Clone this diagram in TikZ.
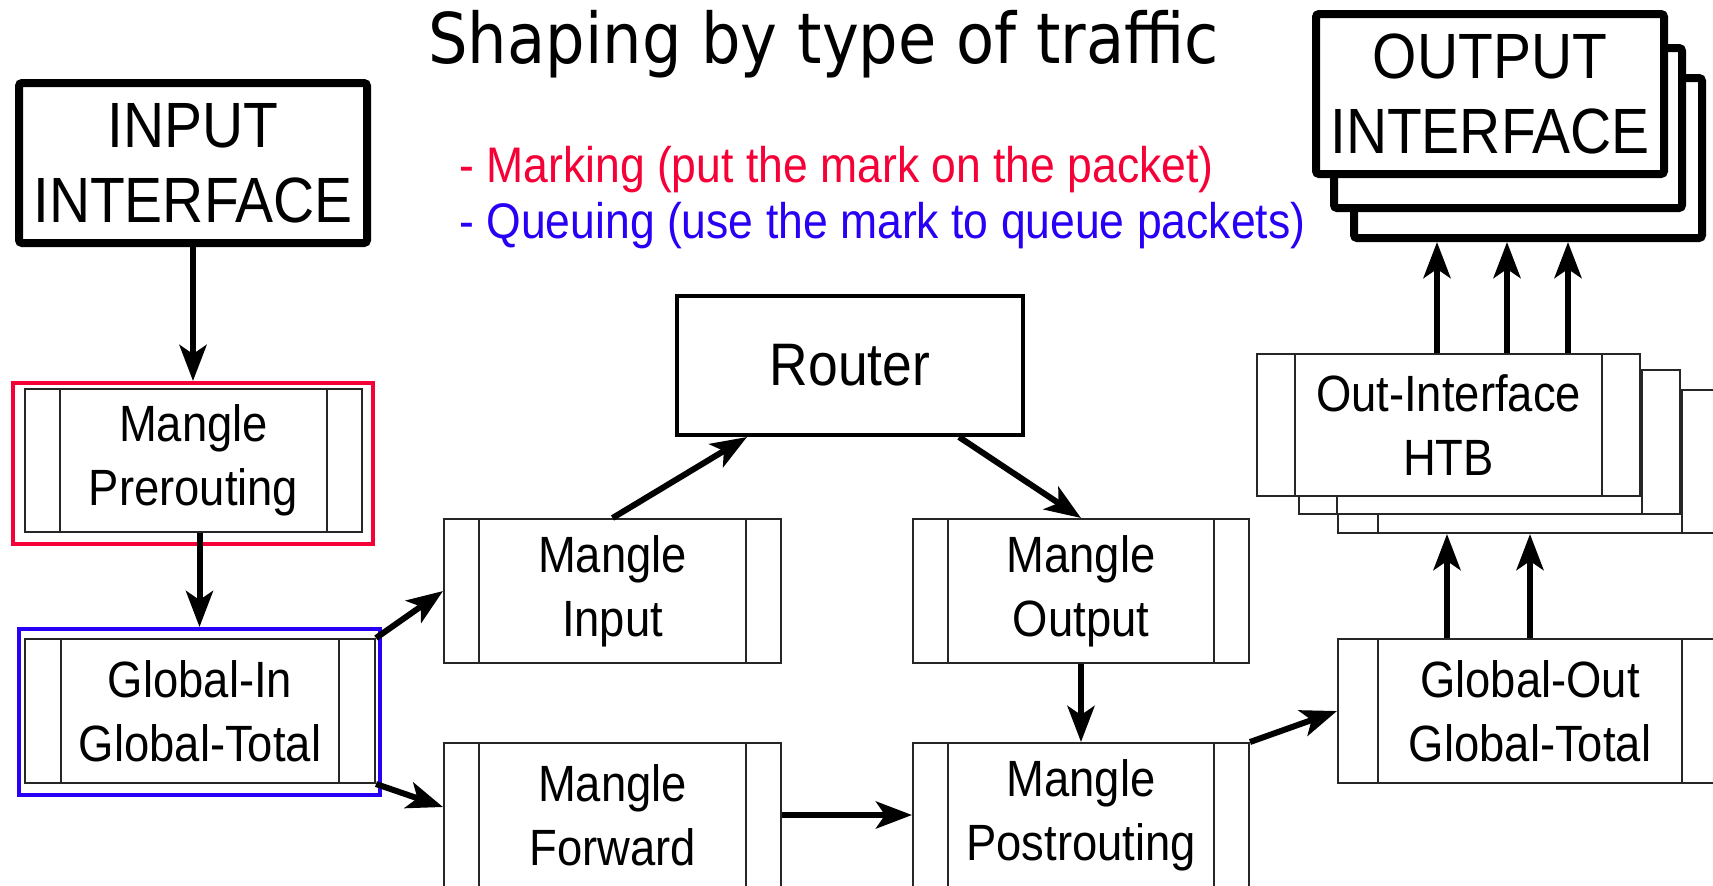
\documentclass[tikz,border=0pt]{standalone}
\usepackage{fontspec}
\setmainfont{Liberation Sans}[FakeStretch=0.89]
\newfontfamily\titlefam{DejaVu Sans}[FakeStretch=0.89]
\usetikzlibrary{arrows.meta}
\definecolor{mred}{RGB}{245,0,55}
\definecolor{mblue}{RGB}{40,0,245}
\newcommand\boxfont{\fontsize{25.5}{32}\selectfont}
\newcommand\bigfont{\fontsize{32}{37.5}\selectfont}
\newcommand\routerfont{\fontsize{30}{36}\selectfont}
\newcommand\notefont{\fontsize{25}{28}\selectfont}
\newcommand\ttlfont{\titlefam\fontsize{35}{40}\selectfont}
\tikzset{
  barw/.store in=\barw, barw=17.5pt,
  proc/.style={draw=black!85, line width=1pt, fill=white, inner sep=0pt,
    align=center, font=\boxfont,
    path picture={\draw[line width=1pt, black!85]
      ([xshift=\barw]path picture bounding box.north west) -- ([xshift=\barw]path picture bounding box.south west)
      ([xshift=-\barw]path picture bounding box.north east) -- ([xshift=-\barw]path picture bounding box.south east);}},
  iface/.style={draw=black, line width=4pt, rounded corners=1.5pt, fill=white,
    align=center, font=\bigfont, inner sep=0pt,
    minimum width=174pt, minimum height=80pt},
  frame/.style={line width=2pt, inner sep=0pt},
  arr/.style={-{Stealth[length=18pt,width=13.5pt,inset=4.5pt]}, line width=3pt},
  note/.style={anchor=base west, inner sep=0pt, font=\notefont}
}
\begin{document}
\begin{tikzpicture}[x=0.5pt,y=-0.5pt]
\useasboundingbox[fill=white] (0,0) rectangle (1713,885);

% title and notes
\node[anchor=base west, inner sep=0pt, font=\ttlfont] (title) at (428,63) {Shaping by type of traffic};
\node[note, text=mred] (mark) at (459,182) {- Marking (put the mark on the packet)};
\node[note, text=mblue] (queue) at (459,238) {- Queuing (use the mark to queue packets)};

% input interface
\node[iface] (inp) at (193,163) {INPUT\\INTERFACE};

% output interface stack
\node[iface] (out3) at (1528,158) {};
\node[iface] (out2) at (1508,128) {};
\node[iface] (out1) at (1490,94) {OUTPUT\\INTERFACE};

% left column
\node[proc, minimum width=168.5pt, minimum height=71.5pt] (pre) at (193.5,460.5) {Mangle\\Prerouting};
\node[draw=mred, frame, minimum width=180pt, minimum height=80.5pt] (red) at (193,463.5) {};
\node[proc, barw=18pt, minimum width=175pt, minimum height=72pt] (gin) at (200,711) {Global-In\\Global-Total};
\node[draw=mblue, frame, minimum width=180.5pt, minimum height=83pt] (blue) at (199.5,712) {};

% middle
\node[proc, minimum width=168.5pt, minimum height=72pt] (min) at (612.5,591) {Mangle\\Input};
\node[proc, minimum width=168.5pt, minimum height=72pt] (mfw) at (612.5,815) {Mangle\\Forward};
\node[draw=black, line width=2pt, fill=white, font=\routerfont, minimum width=173pt, minimum height=69.5pt] (router) at (850,365.5) {Router};
\node[proc, minimum width=168pt, minimum height=72pt] (mout) at (1081,591) {Mangle\\Output};
\node[proc, minimum width=168pt, minimum height=72pt] (mpo) at (1081,815) {Mangle\\Postrouting};

% right
\node[proc, barw=20pt, minimum width=192pt, minimum height=71.5pt] (htb3) at (1530,461.5) {};
\node[proc, barw=19pt, minimum width=190.5pt, minimum height=72pt] (htb2) at (1489.5,442) {};
\node[proc, barw=19pt, minimum width=191.5pt, minimum height=71pt] (htb1) at (1448.5,425) {Out-Interface\\HTB};
\node[proc, barw=20pt, minimum width=192pt, minimum height=72pt] (gout) at (1530,711) {Global-Out\\Global-Total};

% connectors
\draw[arr] (inp.south) -- (red.north);
\draw[arr] (pre.south -| blue.north) -- (blue.north);
\draw[arr] (gin.north east) -- (min.west);
\draw[arr] (gin.south east) -- ([yshift=4pt]mfw.west);
\draw[arr] (min.north) -- ([xshift=36pt]router.south west);
\draw[arr] ([xshift=-33pt]router.south east) -- (mout.north);
\draw[arr] (mout.south) -- (mpo.north);
\draw[arr] (mfw.east) -- (mpo.west);
\draw[arr] (mpo.north east) -- (gout.west);
\draw[arr] ([xshift=-41.5pt]gout.north) -- ([xshift=-41.5pt]gout.north |- htb3.south);
\draw[arr] (gout.north) -- (htb3.south);
\draw[arr] ([xshift=-5.75pt]htb1.north) -- ([xshift=-5.75pt]htb1.north |- out3.south);
\draw[arr] ([xshift=29.25pt]htb1.north) -- ([xshift=29.25pt]htb1.north |- out3.south);
\draw[arr] ([xshift=59.75pt]htb1.north) -- ([xshift=59.75pt]htb1.north |- out3.south);
\end{tikzpicture}
\end{document}
